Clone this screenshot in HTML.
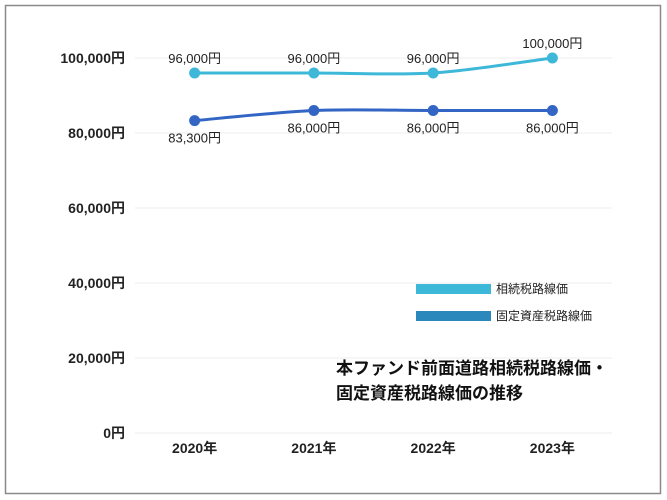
<!DOCTYPE html>
<html><head><meta charset="utf-8"><style>
body{margin:0;background:#fff;}
svg{display:block;font-family:"Liberation Sans","Noto Sans CJK JP",sans-serif;}
</style></head><body>
<svg id="c" width="667" height="500">
<rect x="5.5" y="5.5" width="655" height="488" fill="#fff" stroke="#8a8a8a" stroke-width="1.5"/>
<g id="grid"></g><g id="series"></g><g id="labels"></g>
<rect x="416" y="284" width="75" height="10" fill="#3db8d8"/>
<text x="496" y="293" font-size="12" fill="#222">相続税路線価</text>
<rect x="416" y="311" width="75" height="10" fill="#2b88bd"/>
<text x="496" y="320" font-size="12" fill="#222">固定資産税路線価</text>
<text x="336" y="374" font-size="17" font-weight="bold" fill="#111">本ファンド前面道路相続税路線価・</text>
<text x="336" y="399" font-size="17" font-weight="bold" fill="#111">固定資産税路線価の推移</text>
</svg>
<script>
const categories=["2020年","2021年","2022年","2023年"];
const inheritance=[96000,96000,96000,100000];
const fixedAsset=[83300,86000,86000,86000];
const yTicks=[0,20000,40000,60000,80000,100000];
const NS="http://www.w3.org/2000/svg";
const x0=135,x1=612,yBase=433,yTop=58,yMax=100000;
const xs=i=>x0+(x1-x0)*(i+0.5)/categories.length;
const ys=v=>yBase-(yBase-yTop)*v/yMax;
const fmt=v=>v.toLocaleString("en-US")+"円";
function mk(t,a,p){const e=document.createElementNS(NS,t);for(const k in a)e.setAttribute(k,a[k]);p.appendChild(e);return e;}
const grid=document.getElementById("grid"),ser=document.getElementById("series"),lab=document.getElementById("labels");
yTicks.forEach(v=>{
 const l=mk("line",{x1:x0,x2:x1,y1:ys(v),y2:ys(v),stroke:"#ececec","stroke-width":1},grid);
 
 
 const t=mk("text",{x:125,y:ys(v)+5,"text-anchor":"end","font-size":14,"font-weight":"bold",fill:"#222"},grid);
 t.textContent=fmt(v);
 
 
});
categories.forEach((c,i)=>{
 const t=mk("text",{x:xs(i),y:453,"text-anchor":"middle","font-size":14,"font-weight":"bold",fill:"#222"},grid);
 t.textContent=c;
 
 
});
function path(pts){
 let d="M"+pts[0][0]+","+pts[0][1];
 for(let i=0;i<pts.length-1;i++){
  const p0=pts[Math.max(0,i-1)],p1=pts[i],p2=pts[i+1],p3=pts[Math.min(pts.length-1,i+2)];
  const k=0.3;
  const c1=[p1[0]+(p2[0]-p0[0])*k/2,p1[1]+(p2[1]-p0[1])*k/2];
  const c2=[p2[0]-(p3[0]-p1[0])*k/2,p2[1]-(p3[1]-p1[1])*k/2];
  d+=" C"+c1+" "+c2+" "+p2;
 }
 return d;
}
function draw(data,color,name,above){
 const pts=data.map((v,i)=>[xs(i),ys(v)]);
 const p=mk("path",{d:path(pts),fill:"none",stroke:color,"stroke-width":3},ser);
 
 
 data.forEach((v,i)=>{
  const c=mk("circle",{cx:pts[i][0],cy:pts[i][1],r:5.5,fill:color},ser);
  
  
  const t=mk("text",{x:pts[i][0],y:above?pts[i][1]-10:pts[i][1]+22,"text-anchor":"middle","font-size":13,fill:"#222"},lab);
  t.textContent=fmt(v);
  
  
 });
}
draw(inheritance,"#3db8d8","inheritance",true);
draw(fixedAsset,"#3366c4","fixed-asset",false);
</script>
</body></html>
